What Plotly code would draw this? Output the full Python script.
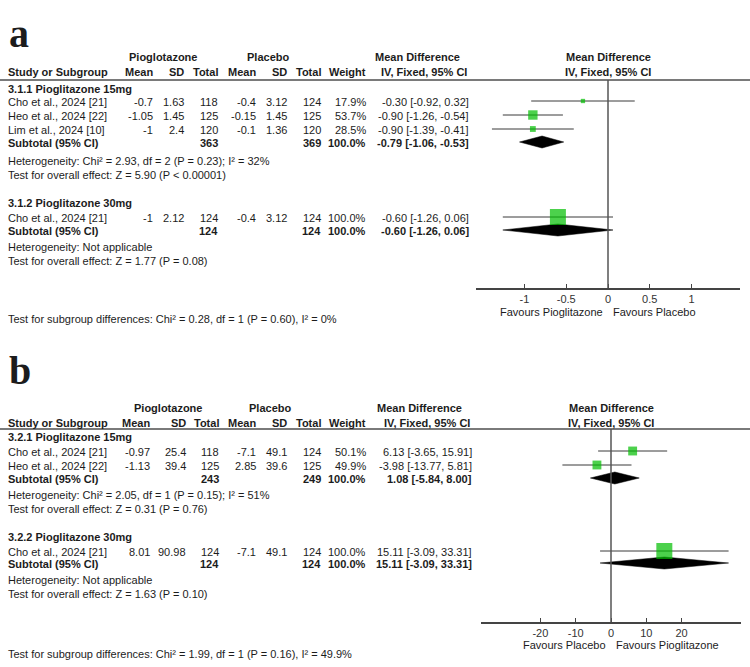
import plotly.graph_objects as go

W, H = 750, 667

# ---------------- Panel a data ----------------
a_groups = ["3.1.1 Pioglitazone 15mg", "3.1.2 Pioglitazone 30mg"]
a_studies = [["Cho et al., 2024 [21]", "Heo et al., 2024 [22]", "Lim et al., 2024 [10]"],
             ["Cho et al., 2024 [21]"]]
a_pio_mean = [[-0.7, -1.05, -1], [-1]]
a_pio_sd = [[1.63, 1.45, 2.4], [2.12]]
a_pio_n = [[118, 125, 120], [124]]
a_pla_mean = [[-0.4, -0.15, -0.1], [-0.4]]
a_pla_sd = [[3.12, 1.45, 1.36], [3.12]]
a_pla_n = [[124, 125, 120], [124]]
a_weight = [[17.9, 53.7, 28.5], [100.0]]
a_md = [[-0.30, -0.90, -0.90], [-0.60]]
a_lo = [[-0.92, -1.26, -1.39], [-1.26]]
a_hi = [[0.32, -0.54, -0.41], [0.06]]
a_sub_pio_n = [363, 124]
a_sub_pla_n = [369, 124]
a_sub_md = [-0.79, -0.60]
a_sub_lo = [-1.06, -1.26]
a_sub_hi = [-0.53, 0.06]
a_het = ["Heterogeneity: Chi² = 2.93, df = 2 (P = 0.23); I² = 32%",
         "Heterogeneity: Not applicable"]
a_test = ["Test for overall effect: Z = 5.90 (P < 0.00001)",
          "Test for overall effect: Z = 1.77 (P = 0.08)"]
a_diff = "Test for subgroup differences: Chi² = 0.28, df = 1 (P = 0.60), I² = 0%"
a_ticks = [-1, -0.5, 0, 0.5, 1]
a_tick_labels = ["-1", "-0.5", "0", "0.5", "1"]
a_favours = ["Favours Pioglitazone", "Favours Placebo"]

# ---------------- Panel b data ----------------
b_groups = ["3.2.1 Pioglitazone 15mg", "3.2.2 Pioglitazone 30mg"]
b_studies = [["Cho et al., 2024 [21]", "Heo et al., 2024 [22]"],
             ["Cho et al., 2024 [21]"]]
b_pio_mean = [[-0.97, -1.13], [8.01]]
b_pio_sd = [[25.4, 39.4], [90.98]]
b_pio_n = [[118, 125], [124]]
b_pla_mean = [[-7.1, 2.85], [-7.1]]
b_pla_sd = [[49.1, 39.6], [49.1]]
b_pla_n = [[124, 125], [124]]
b_weight = [[50.1, 49.9], [100.0]]
b_md = [[6.13, -3.98], [15.11]]
b_lo = [[-3.65, -13.77], [-3.09]]
b_hi = [[15.91, 5.81], [33.31]]
b_sub_pio_n = [243, 124]
b_sub_pla_n = [249, 124]
b_sub_md = [1.08, 15.11]
b_sub_lo = [-5.84, -3.09]
b_sub_hi = [8.00, 33.31]
b_het = ["Heterogeneity: Chi² = 2.05, df = 1 (P = 0.15); I² = 51%",
         "Heterogeneity: Not applicable"]
b_test = ["Test for overall effect: Z = 0.31 (P = 0.76)",
          "Test for overall effect: Z = 1.63 (P = 0.10)"]
b_diff = "Test for subgroup differences: Chi² = 1.99, df = 1 (P = 0.16), I² = 49.9%"
b_ticks = [-20, -10, 0, 10, 20]
b_tick_labels = ["-20", "-10", "0", "10", "20"]
b_favours = ["Favours Placebo", "Favours Pioglitazone"]

# ---------------- layout (pixel positions) ----------------
FONT = "Liberation Sans, Arial, sans-serif"
TXT = "#1c1c1c"
GREEN = "#00bd00"
LINEC = "#3a3a3a"

COLS_A = dict(name=8, pio_mean=153, pio_sd=184, pio_n=218, pla_mean=256,
              pla_sd=287, pla_n=321, weight=366, pio_hdr=163, pla_hdr=268)
COLS_B = dict(name=8, pio_mean=150, pio_sd=186, pio_n=219, pla_mean=256,
              pla_sd=287, pla_n=321, weight=366, pio_hdr=168, pla_hdr=270)

LAY_A = dict(cols=COLS_A, letter=(9, 33), hdr1=57, hdr2=72, rule=80, axis=288, ci=469,
             md_hdr=417, plot_mid=608,
             group=[89, 203], study=[[102, 116, 130], [218]], sub=[143, 231],
             het=[161, 247], test=[175, 261], diff=319, fav=312,
             xdom=(476, 740), xrange=(-1.581, 1.581))
LAY_B = dict(cols=COLS_B, letter=(9, 370), hdr1=408, hdr2=423, rule=429, axis=622, ci=472,
             md_hdr=419, plot_mid=611,
             group=[437, 537], study=[[452, 466], [552]], sub=[479, 564],
             het=[495, 580], test=[509, 594], diff=654, fav=645,
             xdom=(481, 741), xrange=(-36.83, 36.83))


def px(x):
    return x / W


def py(y):
    return 1 - y / H


annotations = []
shapes = []
fig = go.Figure()


def text(x, y, s, anchor="left", bold=False, size=11, family=FONT, xref="paper", xshift=0):
    annotations.append(dict(
        x=px(x) if xref == "paper" else x, y=py(y), xref=xref, yref="paper",
        text=f"<b>{s}</b>" if bold else s, showarrow=False,
        xanchor=anchor, yanchor="middle", borderpad=0, borderwidth=0, xshift=xshift,
        font=dict(family=family, size=size, color=TXT)))


def fmt_ci(m, lo, hi):
    return f"{m:.2f} [{lo:.2f}, {hi:.2f}]"


def panel(letter, D, L, xa, ya):
    C = L["cols"]
    lx, ly = L["letter"]
    text(lx, ly, letter, bold=True, size=40, family="Liberation Serif, Times New Roman, serif")
    # headers
    text(C["pio_hdr"], L["hdr1"], "Pioglotazone", "center", True)
    text(C["pla_hdr"], L["hdr1"], "Placebo", "center", True)
    text(L["md_hdr"], L["hdr1"], "Mean Difference", "center", True)
    text(L["plot_mid"], L["hdr1"], "Mean Difference", "center", True)
    text(C["name"], L["hdr2"], "Study or Subgroup", "left", True)
    for key, lab in [("pio_mean", "Mean"), ("pio_sd", "SD"), ("pio_n", "Total"),
                     ("pla_mean", "Mean"), ("pla_sd", "SD"), ("pla_n", "Total"),
                     ("weight", "Weight")]:
        text(C[key], L["hdr2"], lab, "right", True)
    text(L["ci"] - 2, L["hdr2"], "IV, Fixed, 95% CI", "right", True)
    text(L["plot_mid"], L["hdr2"], "IV, Fixed, 95% CI", "center", True)
    shapes.append(dict(type="line", xref="paper", yref="paper", x0=0, x1=1,
                       y0=py(L["rule"]), y1=py(L["rule"]),
                       line=dict(color="#7a7a7a", width=2)))

    sx, sy, ssz, elo, ehi = [], [], [], [], []
    for g in range(len(D["groups"])):
        text(C["name"], L["group"][g], D["groups"][g], "left", True)
        for i, name in enumerate(D["studies"][g]):
            y = L["study"][g][i]
            text(C["name"], y, name)
            text(C["pio_mean"], y, str(D["pio_mean"][g][i]), "right")
            text(C["pio_sd"], y, str(D["pio_sd"][g][i]), "right")
            text(C["pio_n"], y, str(D["pio_n"][g][i]), "right")
            text(C["pla_mean"], y, str(D["pla_mean"][g][i]), "right")
            text(C["pla_sd"], y, str(D["pla_sd"][g][i]), "right")
            text(C["pla_n"], y, str(D["pla_n"][g][i]), "right")
            text(C["weight"], y, f"{D['weight'][g][i]:.1f}%", "right")
            text(L["ci"], y, fmt_ci(D["md"][g][i], D["lo"][g][i], D["hi"][g][i]), "right")
            sx.append(D["md"][g][i])
            sy.append(y - 1)
            ssz.append(1.75 + 0.1425 * D["weight"][g][i])
            elo.append(D["md"][g][i] - D["lo"][g][i])
            ehi.append(D["hi"][g][i] - D["md"][g][i])
        ys = L["sub"][g]
        text(C["name"], ys, "Subtotal (95% CI)", "left", True)
        text(C["pio_n"], ys, str(D["sub_pio_n"][g]), "right", True)
        text(C["pla_n"], ys, str(D["sub_pla_n"][g]), "right", True)
        text(C["weight"], ys, "100.0%", "right", True)
        text(L["ci"], ys, fmt_ci(D["sub_md"][g], D["sub_lo"][g], D["sub_hi"][g]), "right", True)
        text(C["name"], L["het"][g], D["het"][g])
        text(C["name"], L["test"][g], D["test"][g])
        # diamond
        h = 6
        fig.add_trace(go.Scatter(
            x=[D["sub_lo"][g], D["sub_md"][g], D["sub_hi"][g], D["sub_md"][g], D["sub_lo"][g]],
            y=[ys - 1, ys - 1 - h, ys - 1, ys - 1 + h, ys - 1],
            mode="lines", fill="toself", fillcolor="black", line=dict(color="black", width=0.5),
            xaxis=xa, yaxis=ya, hoverinfo="skip", showlegend=False))
    text(C["name"], L["diff"], D["diff"])

    fig.add_trace(go.Scatter(
        x=sx, y=sy, mode="markers",
        marker=dict(symbol="square", size=ssz, color=GREEN, line=dict(width=0)),
        error_x=dict(type="data", symmetric=False, array=ehi, arrayminus=elo,
                     color=LINEC, thickness=1, width=0),
        xaxis=xa, yaxis=ya, showlegend=False))

    text(0, L["fav"], D["favours"][0], "right", xref=xa, xshift=-5)
    text(0, L["fav"], D["favours"][1], "left", xref=xa, xshift=5)
    # zero line
    shapes.append(dict(type="line", xref=xa, yref=f"{ya} domain", x0=0, x1=0, y0=0, y1=1,
                       line=dict(color="#555555", width=1.5)))


A = dict(groups=a_groups, studies=a_studies, pio_mean=a_pio_mean, pio_sd=a_pio_sd,
         pio_n=a_pio_n, pla_mean=a_pla_mean, pla_sd=a_pla_sd, pla_n=a_pla_n,
         weight=a_weight, md=a_md, lo=a_lo, hi=a_hi, sub_pio_n=a_sub_pio_n,
         sub_pla_n=a_sub_pla_n, sub_md=a_sub_md, sub_lo=a_sub_lo, sub_hi=a_sub_hi,
         het=a_het, test=a_test, diff=a_diff, favours=a_favours)
B = dict(groups=b_groups, studies=b_studies, pio_mean=b_pio_mean, pio_sd=b_pio_sd,
         pio_n=b_pio_n, pla_mean=b_pla_mean, pla_sd=b_pla_sd, pla_n=b_pla_n,
         weight=b_weight, md=b_md, lo=b_lo, hi=b_hi, sub_pio_n=b_sub_pio_n,
         sub_pla_n=b_sub_pla_n, sub_md=b_sub_md, sub_lo=b_sub_lo, sub_hi=b_sub_hi,
         het=b_het, test=b_test, diff=b_diff, favours=b_favours)

panel("a", A, LAY_A, "x", "y")
panel("b", B, LAY_B, "x2", "y2")


def xaxis_cfg(L, ticks, labels, ya, overlay=None):
    cfg = dict(domain=[px(L["xdom"][0]), px(L["xdom"][1])], range=list(L["xrange"]),
               anchor=ya, tickvals=ticks, ticktext=labels, showgrid=False, zeroline=False,
               tickcolor="#444444", tickwidth=1.2, fixedrange=True)
    if overlay:
        # downward half of the crossing tick marks
        cfg.update(ticks="outside", ticklen=3, showticklabels=False, showline=False,
                   overlaying=overlay)
    else:
        cfg.update(ticks="inside", ticklen=4, showline=True, linecolor="#444444", linewidth=1.5,
                   tickfont=dict(family=FONT, size=11, color="#333333"))
    return cfg


def yaxis_cfg(L):
    return dict(domain=[py(L["axis"]), py(L["rule"])], range=[L["axis"], L["rule"]],
                visible=False, fixedrange=True)


fig.update_layout(
    width=W, height=H, margin=dict(l=0, r=0, t=0, b=0),
    paper_bgcolor="white", plot_bgcolor="white",
    xaxis=xaxis_cfg(LAY_A, a_ticks, a_tick_labels, "y"),
    yaxis=yaxis_cfg(LAY_A),
    xaxis2=xaxis_cfg(LAY_B, b_ticks, b_tick_labels, "y2"),
    yaxis2=yaxis_cfg(LAY_B),
    xaxis3=xaxis_cfg(LAY_A, a_ticks, a_tick_labels, "y", overlay="x"),
    xaxis4=xaxis_cfg(LAY_B, b_ticks, b_tick_labels, "y2", overlay="x2"),
    annotations=annotations, shapes=shapes, showlegend=False,
)

fig.write_html("out.html")
